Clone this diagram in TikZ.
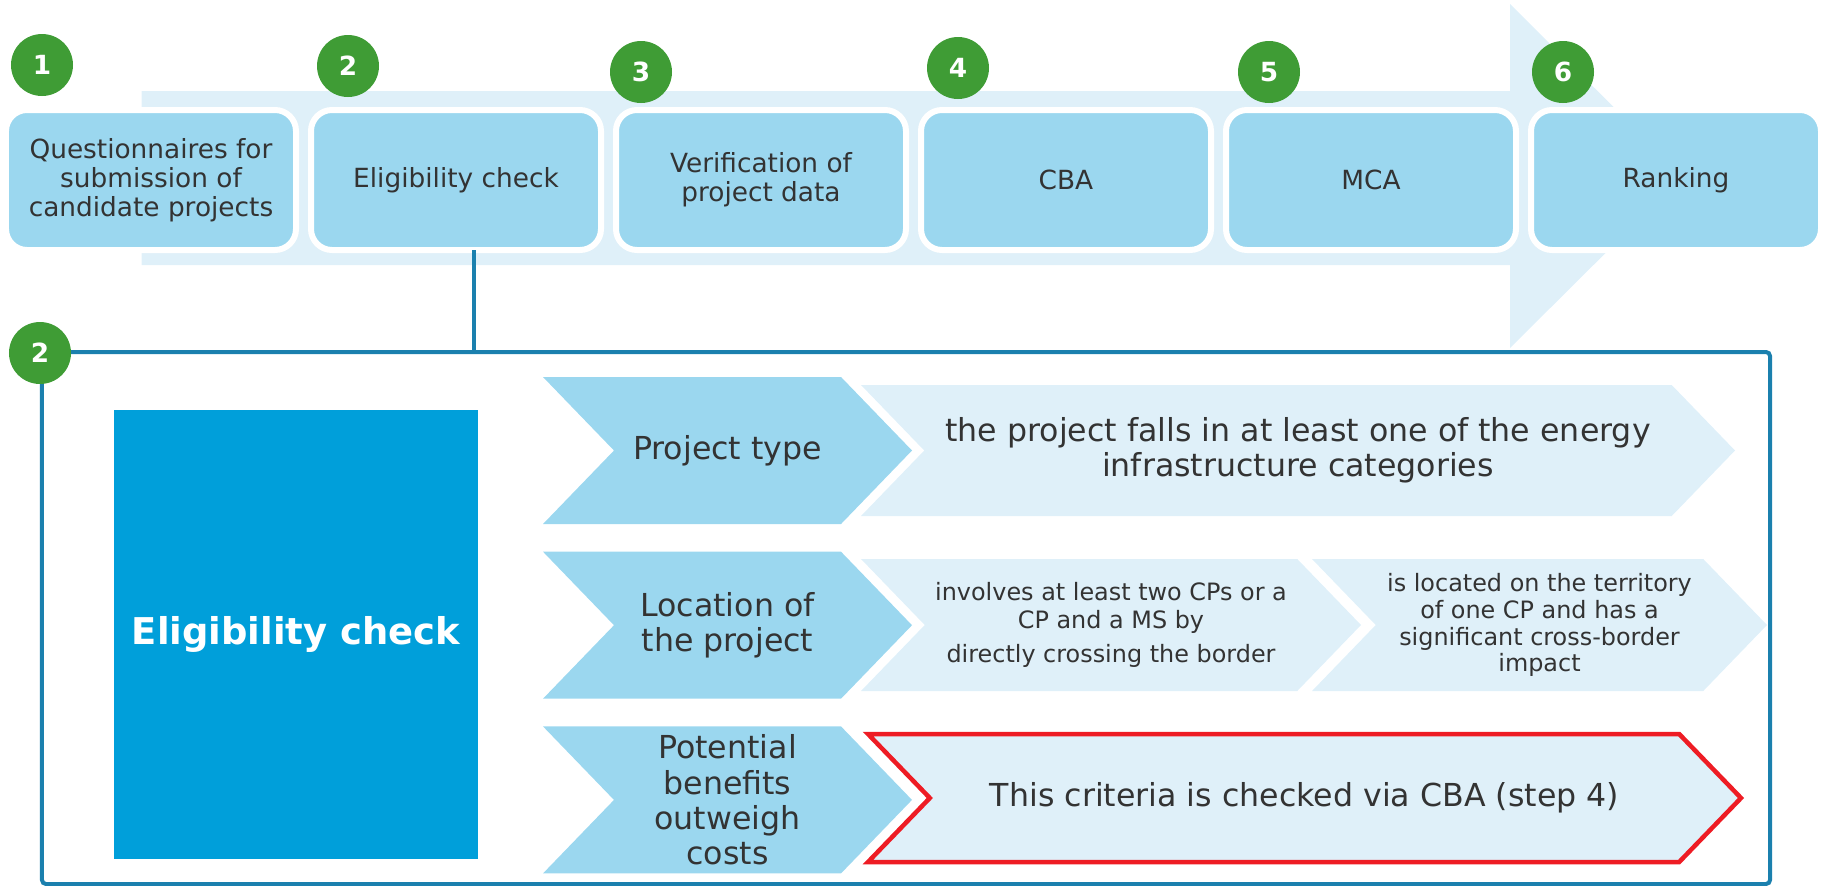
\documentclass[tikz,border=0pt]{standalone}
\usepackage{fontspec}
\setmainfont{DejaVu Sans}
\usetikzlibrary{positioning, shapes.symbols}
\definecolor{stepgreen}{HTML}{3F9C35}
\definecolor{boxblue}{HTML}{9BD7EF}
\definecolor{paleblue}{HTML}{DFF0F9}
\definecolor{deepblue}{HTML}{009FDA}
\definecolor{lineblue}{HTML}{1B80AE}
\definecolor{checkred}{HTML}{EE1C24}
\definecolor{textgray}{HTML}{333333}
\tikzset{node distance=0.3cm, % Gap between two steps of the process
every node/.style={text=textgray},
stepbox/.style={ % The six steps on top
rounded corners=0.42cm, fill=boxblue, draw=white, line width=0.12cm,
outer sep=0pt, minimum width=5.8cm, minimum height=2.8cm, align=center,
font=\fontsize{15}{16.5}\selectfont},
number/.style={ % Green step numbers
circle, fill=stepgreen, minimum size=1.24cm, inner sep=0pt,
text=white, font=\fontsize{15}{15}\selectfont\bfseries},
criterion/.style={ % Dark chevrons on the left
signal, signal from=west, signal to=east, signal pointer angle=92,
fill=boxblue, minimum height=2.94cm, minimum width=7.38cm, inner sep=0pt,
align=center, font=\fontsize{18}{20}\selectfont},
condition/.style={ % Pale chevrons with the conditions
signal, signal from=west, signal to=east, signal pointer angle=92,
fill=paleblue, minimum height=2.62cm, inner sep=0pt,
align=center, font=\fontsize{18}{20}\selectfont},
panel/.style={ % Frame round the detail of step 2
draw=lineblue, line width=0.08cm, rounded corners=0.08cm,
minimum width=34.56cm, minimum height=10.64cm},
link/.style={lineblue, line width=0.08cm}}

\begin{document}
\begin{tikzpicture}
    \useasboundingbox (0,0) rectangle (36.5,-17.72);

    % big arrow behind the steps
    \fill[paleblue] (2.83,-1.82) -- (30.2,-1.82) -- (30.2,-0.08) -- (33.66,-3.52)
        -- (30.2,-6.96) -- (30.2,-5.3) -- (2.83,-5.3) -- cycle;

    \node[stepbox] (s1) at (3.02,-3.6) {Questionnaires for\\submission of\\candidate projects};
    \node[stepbox, right=of s1] (s2) {Eligibility check};
    \node[stepbox, right=of s2] (s3) {Verification of\\project data};
    \node[stepbox, right=of s3] (s4) {CBA};
    \node[stepbox, right=of s4] (s5) {MCA};
    \node[stepbox, right=of s5] (s6) {Ranking};

    \node[number] (n1) at (0.84,-1.30) {1};
    \node[number] (n2) at (6.96,-1.32) {2};
    \node[number] (n3) at (12.82,-1.44) {3};
    \node[number] (n4) at (19.16,-1.36) {4};
    \node[number] (n5) at (25.38,-1.44) {5};
    \node[number] (n6) at (31.26,-1.44) {6};

    % detail of step 2
    \node[panel] (frame) at (18.12,-12.36) {};
    \draw[link] ([xshift=0.36cm]s2.south) -- ([xshift=0.36cm]s2.south |- frame.north);
    \node[number] (m2) at ([yshift=-0.06cm]frame.north west) {2};

    \node[fill=deepblue, minimum width=7.28cm, minimum height=8.98cm, text=white,
        font=\fontsize{21}{21}\selectfont\bfseries] (check) at (5.92,-12.69) {Eligibility check};

    \node[criterion] (c1) at (14.55,-9.01) {Project type};
    \node[criterion, below=0.54cm of c1] (c2) {Location of\\the project};
    \node[criterion, below=0.54cm of c2] (c3) {Potential\\benefits\\outweigh\\costs};

    \node[condition, minimum width=17.48cm] (t1) at (25.96,-9.01)
        {the project falls in at least one of the energy\\infrastructure categories};
    \node[condition, minimum width=10.0cm, minimum height=2.64cm,
        font=\fontsize{13.6}{15.6}\selectfont] (l1) at (22.22,-12.5)
        {involves at least two CPs or a\\CP and a MS by\\[4pt]directly crossing the border};
    \node[condition, minimum width=9.1cm, minimum height=2.64cm,
        font=\fontsize{13.6}{15.3}\selectfont] (l2) at (30.79,-12.5)
        {is located on the territory\\of one CP and has a\\significant cross-border\\impact};
    \node[condition, minimum width=17.46cm, minimum height=2.56cm,
        draw=checkred, line width=0.09cm] (b1) at (26.09,-15.96)
        {This criteria is checked via CBA (step 4)};

\end{tikzpicture}
\end{document}
